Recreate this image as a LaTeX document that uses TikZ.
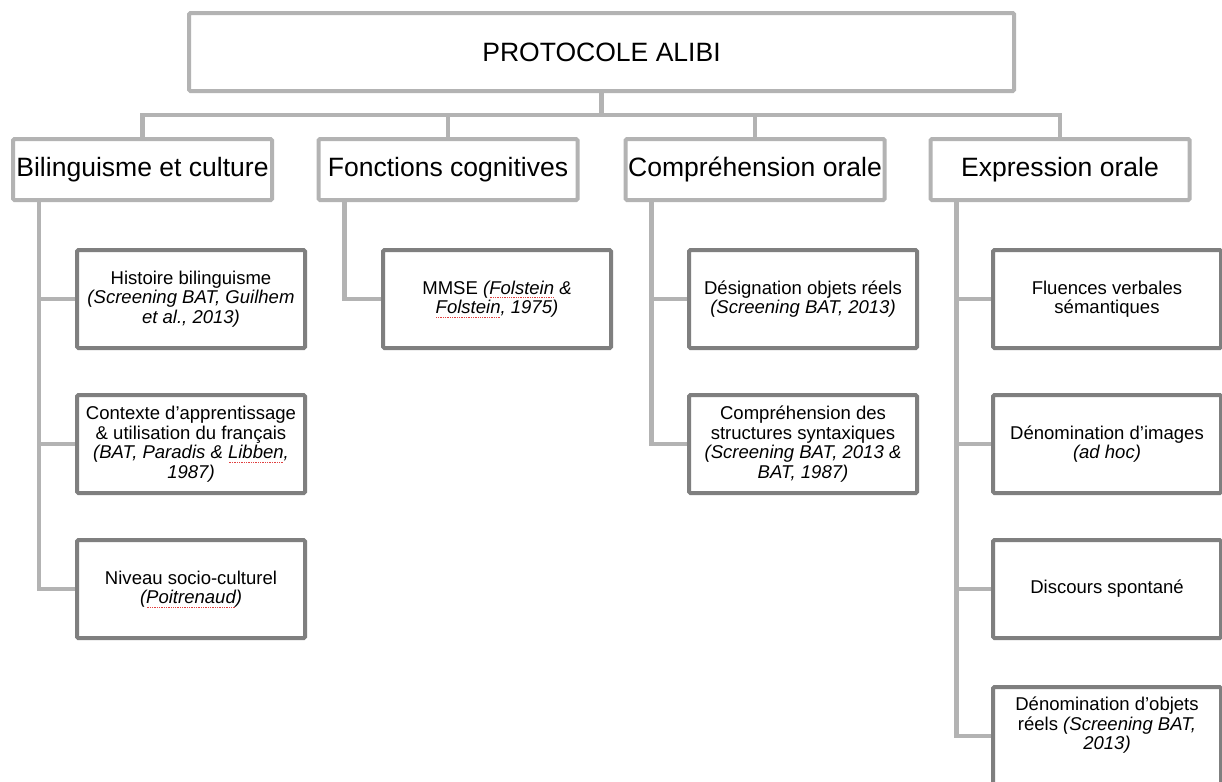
\documentclass[tikz,border=0pt]{standalone}
\usepackage{fontspec}
\setmainfont{Liberation Sans}
\definecolor{lgray}{HTML}{B3B3B3}
\definecolor{dgray}{HTML}{7F7F7F}
\definecolor{spellred}{HTML}{E04040}
\newsavebox\spbox
\newcommand\spell[1]{\sbox\spbox{#1}\leavevmode\rlap{\textcolor{spellred}{\raisebox{-3pt}[0pt][0pt]{\hbox to \wd\spbox{\xleaders\hbox to 1.3pt{\hss\rule{0.65pt}{0.65pt}\hss}\hfill}}}}\usebox\spbox}
\tikzset{
  hdr/.style={draw=lgray, line width=3pt, fill=white, inner sep=0pt, rounded corners=1pt,
    minimum width=194.25pt, minimum height=45.75pt, font=\fontsize{19.9pt}{23pt}\selectfont},
  topbox/.style={hdr, minimum width=618.75pt, minimum height=58.5pt},
  sub/.style={draw=dgray, line width=3pt, fill=white, inner sep=0pt, rounded corners=1pt,
    minimum width=171pt, minimum height=73.5pt, align=center,
    font=\fontsize{13.9pt}{14.6pt}\selectfont},
  conn/.style={draw=lgray, line width=3.4pt},
}
\begin{document}
\begin{tikzpicture}[x=0.75pt, y=-0.75pt]
\useasboundingbox[fill=white] (0,0) rectangle (1222,782);
% top
\node[topbox] (top) at (601.5,52) {PROTOCOLE ALIBI};
% headers
\node[hdr] (h1) at (142.5,169.5) {Bilinguisme et culture};
\node[hdr] (h2) at (448,169.5) {Fonctions cognitives};
\node[hdr] (h3) at (755,169.5) {Compréhension orale};
\node[hdr] (h4) at (1060,169.5) {Expression orale};
% sub boxes column 1
\node[sub] (s11) at (191,299) {Histoire bilinguisme\\ \textit{(Screening BAT, Guilhem}\\ \textit{et al., 2013)}};
\node[sub] (s12) at (191,444) {Contexte d’apprentissage\\ \& utilisation du français\\ \textit{(BAT, Paradis \& \spell{Libben},}\\ \textit{1987)}};
\node[sub] (s13) at (191,589) {Niveau socio-culturel\\ \textit{(\spell{Poitrenaud})}};
% column 2
\node[sub] (s21) at (497,299) {MMSE \textit{(\spell{Folstein} \&}\\ \textit{\spell{Folstein}, 1975)}};
% column 3
\node[sub] (s31) at (803,299) {Désignation objets réels\\ \textit{(Screening BAT, 2013)}};
\node[sub] (s32) at (803,444) {Compréhension des\\ structures syntaxiques\\ \textit{(Screening BAT, 2013 \&}\\ \textit{BAT, 1987)}};
% column 4
\node[sub] (s41) at (1107,299) {Fluences verbales\\ sémantiques};
\node[sub] (s42) at (1107,444) {Dénomination d’images\\ \textit{(ad hoc)}};
\node[sub] (s43) at (1107,589) {Discours spontané};
\node[sub] (s44) at (1107,736) {Dénomination d’objets\\ réels \textit{(Screening BAT,}\\ \textit{2013)}\\ \strut};
% connectors top level
\coordinate (bus) at (0,115);
\draw[conn] (top.south) -- (top.south |- bus);
\draw[conn] (h1.north) |- (h4.north |- bus) -- (h4.north);
\draw[conn] (h2.north) -- (h2.north |- bus);
\draw[conn] (h3.north) -- (h3.north |- bus);
% vertical rails
\path (h1.south west) ++(28,0) coordinate (r1);
\path (h2.south west) ++(28,0) coordinate (r2);
\path (h3.south west) ++(28,0) coordinate (r3);
\path (h4.south west) ++(28,0) coordinate (r4);
\draw[conn] (r1) |- (s13.west);
\draw[conn] (r1 |- s11.west) -- (s11.west);
\draw[conn] (r1 |- s12.west) -- (s12.west);
\draw[conn] (r2) |- (s21.west);
\draw[conn] (r3) |- (s32.west);
\draw[conn] (r3 |- s31.west) -- (s31.west);
\draw[conn] (r4) |- (s44.west);
\draw[conn] (r4 |- s41.west) -- (s41.west);
\draw[conn] (r4 |- s42.west) -- (s42.west);
\draw[conn] (r4 |- s43.west) -- (s43.west);
\end{tikzpicture}
\end{document}
